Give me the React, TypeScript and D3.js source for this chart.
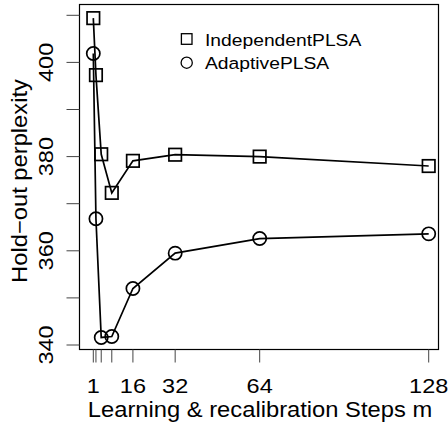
import React from "react";
import * as d3 from "d3";

// Learning & recalibration steps (x) and hold-out perplexity of each model
const steps = [1, 2, 4, 8, 16, 32, 64, 128];
const independentPLSA = [409.4, 397.3, 380.5, 372.3, 379.1, 380.4, 380.0, 378.0];
const adaptivePLSA = [401.9, 366.8, 341.6, 341.8, 352.0, 359.5, 362.6, 363.6];

const xTicks = [1, 2, 4, 8, 16, 32, 64, 128];
const xTickLabels = [1, 16, 32, 64, 128];
const yTicks = [340, 350, 360, 370, 380, 390, 400, 410];
const yTickLabels = [340, 360, 380, 400];

const seriesNames = ["IndependentPLSA", "AdaptivePLSA"];

const W = 448;
const H = 426;
const box = { left: 79.5, right: 438.5, top: 4.5, bottom: 349.5 };
const FONT = "'Liberation Sans', Arial, Helvetica, sans-serif";
// horizontal stretch of the glyphs along the reading direction
const SX = 1.12;

export default function App() {
  const x = d3.scaleLinear().domain([1, 128]).range([93.3, 428.7]);
  const y = d3.scaleLinear().domain([340, 410]).range([345, 15.3]);

  const line = d3
    .line<[number, number]>()
    .x((d) => x(d[0]))
    .y((d) => y(d[1]));

  const indPts: [number, number][] = steps.map((s, i) => [s, independentPLSA[i]]);
  const adpPts: [number, number][] = steps.map((s, i) => [s, adaptivePLSA[i]]);

  const sq = 12.5;
  const r = 6.6;
  const tickLen = 13;

  return (
    <svg
      width={W}
      height={H}
      style={{ position: "absolute", left: 0, top: 0, background: "#fff" }}
      fontFamily={FONT}
    >
      <rect x={0} y={0} width={W} height={H} fill="#fff" />

      {/* series lines */}
      <path d={line(indPts) ?? ""} fill="none" stroke="#000" strokeWidth={1.7} />
      <path d={line(adpPts) ?? ""} fill="none" stroke="#000" strokeWidth={1.7} />

      {/* square markers */}
      {indPts.map(([sx, sy], i) => (
        <rect
          key={"s" + i}
          x={x(sx) - sq / 2}
          y={y(sy) - sq / 2}
          width={sq}
          height={sq}
          fill="none"
          stroke="#000"
          strokeWidth={1.7}
        />
      ))}
      {/* circle markers */}
      {adpPts.map(([cx, cy], i) => (
        <circle
          key={"c" + i}
          cx={x(cx)}
          cy={y(cy)}
          r={r}
          fill="none"
          stroke="#000"
          strokeWidth={1.7}
        />
      ))}

      {/* plot frame */}
      <rect
        x={box.left}
        y={box.top}
        width={box.right - box.left}
        height={box.bottom - box.top}
        fill="none"
        stroke="#000"
        strokeWidth={1.2}
      />

      {/* x axis */}
      {xTicks.map((t) => (
        <line
          key={"xt" + t}
          x1={x(t)}
          x2={x(t)}
          y1={box.bottom}
          y2={box.bottom + tickLen}
          stroke="#444"
          strokeWidth={1}
        />
      ))}
      {xTickLabels.map((t) => (
        <text
          key={"xl" + t}
          transform={`translate(${x(t)},392.5) scale(${SX},1)`}
          textAnchor="middle"
          fontSize={21}
        >
          {t}
        </text>
      ))}
      <text
        transform={`translate(260,417) scale(${SX},1)`}
        textAnchor="middle"
        fontSize={21.2}
      >
        Learning &amp; recalibration Steps m
      </text>

      {/* y axis */}
      {yTicks.map((t) => (
        <line
          key={"yt" + t}
          x1={box.left - tickLen}
          x2={box.left}
          y1={y(t)}
          y2={y(t)}
          stroke="#444"
          strokeWidth={1}
        />
      ))}
      {yTickLabels.map((t) => (
        <text
          key={"yl" + t}
          transform={`translate(53,${y(t)}) rotate(-90) scale(${SX},1)`}
          textAnchor="middle"
          fontSize={21}
        >
          {t}
        </text>
      ))}
      <text
        transform={`translate(26.7,${(box.top + box.bottom) / 2 + 4}) rotate(-90) scale(${SX},1)`}
        textAnchor="middle"
        fontSize={21.2}
      >
        Hold−out perplexity
      </text>

      {/* legend */}
      <rect x={186.7 - 5.3} y={39 - 5.3} width={10.6} height={10.6} fill="none" stroke="#000" strokeWidth={1.3} />
      <text transform={`translate(205,45.7) scale(${SX},1)`} fontSize={17.2}>
        {seriesNames[0]}
      </text>
      <circle cx={186.7} cy={62.7} r={5.6} fill="none" stroke="#000" strokeWidth={1.3} />
      <text transform={`translate(205,69) scale(${SX},1)`} fontSize={17.2}>
        {seriesNames[1]}
      </text>
    </svg>
  );
}
